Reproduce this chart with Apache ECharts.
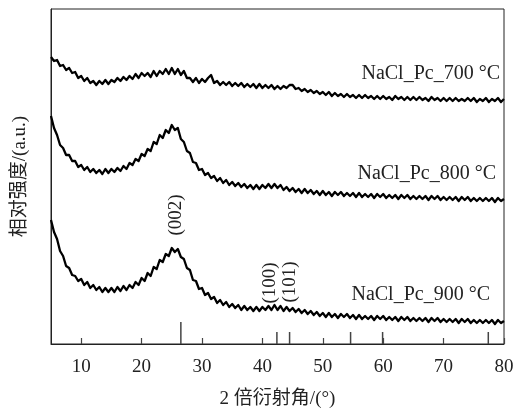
<!DOCTYPE html>
<html>
<head>
<meta charset="utf-8">
<script src="https://cdn.jsdelivr.net/npm/echarts@6/dist/echarts.min.js"></script>
<style>
html,body{margin:0;padding:0;background:#fff;}
#chart{width:517px;height:412px;}
</style>
</head>
<body>
<div id="chart"></div>
<script>
// 2θ sampling grid (degrees)
const twoTheta = [5,5.5,6,6.5,7,7.5,8,8.5,9,9.5,10,10.5,11,11.5,12,12.5,13,13.5,14,14.5,15,15.5,16,16.5,17,17.5,18,18.5,19,19.5,20,20.5,21,21.5,22,22.5,23,23.5,24,24.5,25,25.5,26,26.5,27,27.5,28,28.5,29,29.5,30,30.5,31,31.5,32,32.5,33,33.5,34,34.5,35,35.5,36,36.5,37,37.5,38,38.5,39,39.5,40,40.5,41,41.5,42,42.5,43,43.5,44,44.5,45,45.5,46,46.5,47,47.5,48,48.5,49,49.5,50,50.5,51,51.5,52,52.5,53,53.5,54,54.5,55,55.5,56,56.5,57,57.5,58,58.5,59,59.5,60,60.5,61,61.5,62,62.5,63,63.5,64,64.5,65,65.5,66,66.5,67,67.5,68,68.5,69,69.5,70,70.5,71,71.5,72,72.5,73,73.5,74,74.5,75,75.5,76,76.5,77,77.5,78,78.5,79,79.5,80];

// Relative intensity (a.u., curves offset vertically as in the figure)
const pc700 = [287,283,284,278,279,274,276,271,272,266,268,263,266,261,263,259,263,260,264,260,264,262,266,263,267,264,268,265,270,266,271,268,271,267,273,268,273,270,275,270,276,270,275,269,273,266,266,262,266,261,265,262,266,269,261,263,259,262,259,262,258,261,258,261,257,260,257,260,256,260,256,259,256,259,255,258,255,258,256,259,259,255,256,253,255,252,254,251,253,250,252,249,252,248,251,248,250,247,250,247,249,246,249,246,249,246,248,245,248,245,248,245,247,244,248,245,247,244,247,244,247,244,247,244,246,243,247,244,246,243,246,243,246,243,246,243,245,243,246,243,246,242,245,243,246,242,245,243,246,242,245];
const pc800 = [228,216,209,199,196,189,189,183,183,177,179,174,177,172,175,171,174,170,175,171,175,172,176,173,178,175,181,179,185,183,190,188,195,193,202,200,209,206,214,211,219,214,216,205,202,193,191,182,181,174,175,169,171,166,168,163,166,161,164,159,162,158,161,157,160,156,159,155,159,155,159,156,160,156,160,156,159,154,157,153,156,152,155,151,155,151,154,150,153,149,153,149,152,148,152,149,152,148,151,148,151,147,151,147,150,147,150,146,150,147,150,146,149,146,149,145,149,146,149,145,148,145,148,145,148,144,148,145,148,144,147,144,147,144,147,143,147,144,147,143,146,143,146,143,146,143,146,142,146,143,145];
const pc900 = [124,112,105,93,88,78,76,69,68,63,65,59,62,56,59,54,57,52,56,52,56,52,57,53,58,54,59,56,62,59,66,63,71,68,77,75,84,82,90,88,96,92,95,87,85,76,74,64,63,55,56,49,51,45,47,41,44,39,42,37,40,36,39,34,38,34,37,33,37,33,37,34,38,34,39,34,38,33,37,33,36,32,35,31,34,30,33,29,32,28,31,27,31,27,30,26,30,27,30,26,29,25,29,25,28,25,28,24,28,25,28,24,27,24,27,23,27,24,27,23,26,23,26,23,26,22,26,23,26,22,25,22,25,22,25,21,25,22,25,21,24,21,24,21,24,21,24,20,24,21,23];

// Reference (graphite) stick pattern
const refAngles = [26.5, 42.4, 44.5, 54.6, 59.9, 77.4];
const refHeights = [22, 12, 12, 12, 12, 12];

// Texts
const seriesNames = ['NaCl_Pc_700 °C', 'NaCl_Pc_800 °C', 'NaCl_Pc_900 °C'];
const peakLabels = ['(002)', '(100)', '(101)'];
const xTitle = '2 倍衍射角/(°)';
const yTitle = '相对强度/(a.u.)';

const serif = '"Liberation Serif","Times New Roman","Noto Sans CJK SC",serif';

function pairs(ys) { return twoTheta.map((x, i) => [x, ys[i]]); }

const chart = echarts.init(document.getElementById('chart'), null, {renderer: 'canvas'});
const lineStyle = {color: '#000', width: 2.3, join: 'round'};
const option = {
  animation: false,
  backgroundColor: '#fff',
  grid: {left: 51, right: 13, top: 9, bottom: 68, containLabel: false, outerBoundsMode: 'none',
         show: true, borderColor: '#222', borderWidth: 1, backgroundColor: 'transparent'},
  xAxis: {
    type: 'value', min: 5, max: 80, splitNumber: 7,
    name: xTitle, nameLocation: 'middle', nameGap: 46,
    nameTextStyle: {fontFamily: serif, fontSize: 19, color: '#222'},
    axisLine: {show: true, lineStyle: {color: '#222', width: 1}},
    axisTick: {show: true, inside: true, length: 6, lineStyle: {color: '#444', width: 1.2}},
    axisLabel: {showMinLabel: false, margin: 14, fontFamily: serif, fontSize: 19, color: '#222'},
    splitLine: {show: false}
  },
  yAxis: {
    type: 'value', min: 0, max: 335,
    name: yTitle, nameLocation: 'middle', nameGap: 21, nameRotate: 90,
    nameTextStyle: {fontFamily: serif, fontSize: 19, color: '#222'},
    axisLine: {show: true, lineStyle: {color: '#222', width: 1}},
    axisTick: {show: false}, axisLabel: {show: false}, splitLine: {show: false}
  },
  series: [
    {type: 'line', name: seriesNames[0], data: pairs(pc700), showSymbol: false, lineStyle: lineStyle, itemStyle: {color: '#000'}, z: 3},
    {type: 'line', name: seriesNames[1], data: pairs(pc800), showSymbol: false, lineStyle: lineStyle, itemStyle: {color: '#000'}, z: 3},
    {type: 'line', name: seriesNames[2], data: pairs(pc900), showSymbol: false, lineStyle: lineStyle, itemStyle: {color: '#000'}, z: 3},
    {type: 'bar', name: 'ref', data: refAngles.map((a, i) => [a, refHeights[i]]), barWidth: 1.5, itemStyle: {color: '#444'}, z: 2}
  ],
  graphic: [
    {type: 'text', right: 17, top: 64, style: {text: seriesNames[0], font: '20px ' + serif, fill: '#222'}},
    {type: 'text', right: 21, top: 164, style: {text: seriesNames[1], font: '20px ' + serif, fill: '#222'}},
    {type: 'text', right: 27, top: 285, style: {text: seriesNames[2], font: '20px ' + serif, fill: '#222'}},
    {type: 'text', x: 176.5, y: 215, rotation: Math.PI / 2, style: {text: peakLabels[0], font: '19px ' + serif, fill: '#222', align: 'center', verticalAlign: 'middle'}},
    {type: 'text', x: 270.5, y: 283, rotation: Math.PI / 2, style: {text: peakLabels[1], font: '19px ' + serif, fill: '#222', align: 'center', verticalAlign: 'middle'}},
    {type: 'text', x: 290, y: 282, rotation: Math.PI / 2, style: {text: peakLabels[2], font: '19px ' + serif, fill: '#222', align: 'center', verticalAlign: 'middle'}}
  ]
};
chart.setOption(option);
</script>
</body>
</html>
